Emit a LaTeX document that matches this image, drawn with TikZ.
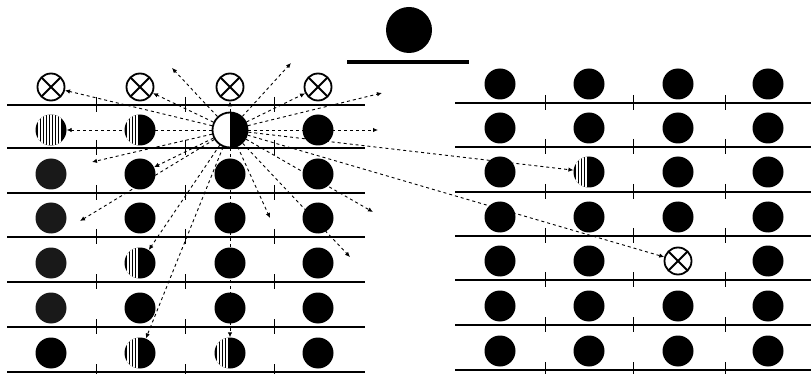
\documentclass[tikz,border=0pt]{standalone}
\usepackage{tikz}
\usetikzlibrary{arrows.meta,backgrounds}

\begin{document}
\begin{tikzpicture}[x=1pt, y=-1pt,
  blackdot/.style={circle, fill=black, inner sep=0pt, minimum size=31pt},
  mottled/.style={blackdot, fill=black!90},
  striped/.style={blackdot, path picture={
      \foreach \k in {-12,-9,-6,-3}
        \draw[white, line width=1.1pt] ([xshift=\k pt]path picture bounding box.north) -- ([xshift=\k pt]path picture bounding box.south);}},
  fullstriped/.style={blackdot, path picture={
      \foreach \k in {-12,-9,...,9}
        \draw[white, line width=1.1pt] ([xshift=\k pt]path picture bounding box.north) -- ([xshift=\k pt]path picture bounding box.south);}},
  crossed/.style={circle, draw, line width=1.8pt, fill=white, inner sep=0pt, minimum size=27pt,
      path picture={\draw[black, line width=1.8pt] (path picture bounding box.center) +(45:16pt) -- +(225:16pt) +(135:16pt) -- +(315:16pt);}},
  halfmoon/.style={circle, draw, line width=1.8pt, fill=white, inner sep=0pt, minimum size=35pt,
      path picture={\fill[black] (path picture bounding box.north) rectangle (path picture bounding box.south east);}},
  rail/.style={line width=2.8pt},
  notch/.style={line width=0.9pt},
  ray/.style={line width=0.9pt, dash pattern=on 3pt off 3pt, -{Latex[length=5pt, width=4.5pt]}}]
  \useasboundingbox (0,0) rectangle (811,374);

  % sun and horizon
  \node[blackdot, minimum size=46pt] (sun) at (409,30) {};
  \draw[line width=3.4pt] (347,62) -- (469,62);

  % left field
  \foreach \y in {105,148,193,237,282,327,372} {
    \draw[rail] (7,\y) -- (365,\y);
    \foreach \x in {96,185,274} \draw[notch] (\x,\y-8) -- (\x,\y+7);
  }
  \foreach \r/\y/\sa/\sb/\sc/\sd in {
      0/87/crossed/crossed/crossed/crossed,
      1/130/fullstriped/striped/halfmoon/blackdot,
      2/174/mottled/blackdot/blackdot/blackdot,
      3/218/mottled/blackdot/blackdot/blackdot,
      4/263/mottled/striped/blackdot/blackdot,
      5/308/mottled/blackdot/blackdot/blackdot,
      6/353/blackdot/striped/striped/blackdot} {
    \node[\sa] (L\r1) at (51,\y) {};
    \node[\sb] (L\r2) at (140,\y) {};
    \node[\sc] (L\r3) at (230,\y) {};
    \node[\sd] (L\r4) at (318,\y) {};
  }

  % right field
  \foreach \y in {103,147,192,236,280,325,370} {
    \draw[rail] (455,\y) -- (811,\y);
    \foreach \x in {545,633,725} \draw[notch] (\x,\y-8) -- (\x,\y+7);
  }
  \foreach \r/\y/\sa/\sb/\sc/\sd in {
      0/84/blackdot/blackdot/blackdot/blackdot,
      1/128/blackdot/blackdot/blackdot/blackdot,
      2/172/blackdot/striped/blackdot/blackdot,
      3/217/blackdot/blackdot/blackdot/blackdot,
      4/261/blackdot/blackdot/crossed/blackdot,
      5/306/blackdot/blackdot/blackdot/blackdot,
      6/351/blackdot/blackdot/blackdot/blackdot} {
    \node[\sa] (R\r1) at (500,\y) {};
    \node[\sb] (R\r2) at (589,\y) {};
    \node[\sc] (R\r3) at (678,\y) {};
    \node[\sd] (R\r4) at (768,\y) {};
  }

  % rays from the half moon
  \coordinate (a1) at (172,68);
  \coordinate (a2) at (291,63);
  \coordinate (a3) at (382,93);
  \coordinate (a4) at (378,130);
  \coordinate (a5) at (92,162);
  \coordinate (a6) at (80,221);
  \coordinate (a7) at (270,218);
  \coordinate (a8) at (350,257);
  \coordinate (a9) at (373,212);
  \begin{scope}[on background layer]
    \foreach \t in {L01,L02,a1,a2,L04,a3,a4,L11,R22,R43,a5,L22,a6,L42,L62,L63,a7,a8,a9}
      \draw[ray] (L13) -- (\t);
    \draw[ray] (L13) -- (L03);
  \end{scope}
\end{tikzpicture}
\end{document}
